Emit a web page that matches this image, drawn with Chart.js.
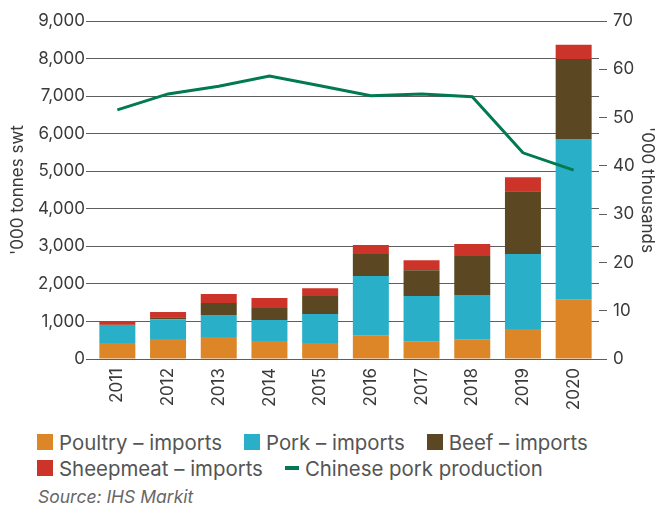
<!DOCTYPE html>
<html>
<head>
<meta charset="utf-8">
<script src="https://cdn.jsdelivr.net/npm/chart.js@4/dist/chart.umd.min.js"></script>
<style>
  html, body { margin: 0; padding: 0; background: #fff; }
  #wrap { position: relative; width: 656px; height: 505px; font-family: Inter, Lato, sans-serif; }
  #c { position: absolute; left: 0; top: 0; }
  #legend { position: absolute; left: 37px; top: 429px; color: #555; font-size: 20.4px; }
  .row { display: flex; align-items: center; height: 26px; white-space: nowrap; }
  .item { display: flex; align-items: center; margin-right: 22px; }
  .sw { width: 16px; height: 16px; margin-right: 6px; }
  .ln { width: 14px; height: 4px; margin-right: 6px; }
  #src { position: absolute; left: 38px; top: 486px; line-height: 22px; color: #666; font-size: 17.5px; font-style: italic; }
</style>
</head>
<body>
<div id="wrap">
  <canvas id="c" width="656" height="425"></canvas>
  <div id="legend"></div>
  <div id="src">Source: IHS Markit</div>
</div>
<script>
const years = ['2011','2012','2013','2014','2015','2016','2017','2018','2019','2020'];
const poultryImports   = [425, 530, 585, 480, 425, 620, 460, 515, 800, 1575];
const porkImports      = [480, 530, 585, 560, 770, 1590, 1215, 1190, 1995, 4285];
const beefImports      = [10, 55, 320, 320, 480, 585, 690, 1035, 1675, 2130];
const sheepmeatImports = [90, 135, 240, 265, 210, 240, 265, 320, 370, 375];
const chinesePorkProduction = [51.6, 54.9, 56.5, 58.6, 56.6, 54.5, 54.9, 54.3, 42.7, 39.1];
const leftTicks = [0, 1000, 2000, 3000, 4000, 5000, 6000, 7000, 8000, 9000];
const rightTicks = [0, 10, 20, 30, 40, 50, 60, 70];

const COLORS = {
  poultry: '#DD8628',
  pork: '#2AAFC8',
  beef: '#5B4823',
  sheep: '#CD3429',
  line: '#007A4E'
};
const FONT = 'Inter, Lato, sans-serif';
const TXT = '#3a3a3a';

const legendItems = [
  [{label:'Poultry – imports', color: COLORS.poultry}, {label:'Pork – imports', color: COLORS.pork}, {label:'Beef – imports', color: COLORS.beef}],
  [{label:'Sheepmeat – imports', color: COLORS.sheep}, {label:'Chinese pork production', color: COLORS.line, line:true}]
];
const lg = document.getElementById('legend');
legendItems.forEach(r => {
  const row = document.createElement('div'); row.className = 'row';
  r.forEach(it => {
    const d = document.createElement('div'); d.className = 'item';
    const s = document.createElement('span'); s.className = it.line ? 'ln' : 'sw'; s.style.background = it.color;
    const t = document.createElement('span'); t.textContent = it.label;
    d.appendChild(s); d.appendChild(t); row.appendChild(d);
  });
  lg.appendChild(row);
});

const barCommon = { type: 'bar', yAxisID: 'y', stack: 'imports', barPercentage: 0.71, categoryPercentage: 1.0, borderWidth: 0, order: 2 };

new Chart(document.getElementById('c'), {
  data: {
    labels: years,
    datasets: [
      Object.assign({ label: 'Poultry – imports', data: poultryImports, backgroundColor: COLORS.poultry }, barCommon),
      Object.assign({ label: 'Pork – imports', data: porkImports, backgroundColor: COLORS.pork }, barCommon),
      Object.assign({ label: 'Beef – imports', data: beefImports, backgroundColor: COLORS.beef }, barCommon),
      Object.assign({ label: 'Sheepmeat – imports', data: sheepmeatImports, backgroundColor: COLORS.sheep }, barCommon),
      { type: 'line', label: 'Chinese pork production', data: chinesePorkProduction, yAxisID: 'y1',
        borderColor: COLORS.line, borderWidth: 3, pointRadius: 0, tension: 0, fill: false, order: 1 }
    ]
  },
  options: {
    responsive: false,
    animation: false,
    layout: { padding: { top: 21, left: 0, right: 0, bottom: 0 } },
    plugins: { legend: { display: false }, tooltip: { enabled: false } },
    scales: {
      x: {
        stacked: true,
        grid: { display: false, drawTicks: false },
        border: { display: false },
        ticks: { color: TXT, font: { family: FONT, size: 17 }, minRotation: 90, maxRotation: 90, padding: 9 },
        afterFit: s => { s.height = 425 - 359; }
      },
      y: {
        position: 'left',
        stacked: true,
        min: 0, max: 9000,
        afterBuildTicks: s => { s.ticks = leftTicks.map(v => ({ value: v })); },
        grid: { color: '#5e5e5e', lineWidth: 1, tickLength: 6, drawTicks: true },
        border: { display: false },
        ticks: { color: TXT, font: { family: FONT, size: 17 }, padding: 1,
          callback: v => v.toLocaleString('en-US') },
        title: { display: true, text: "'000 tonnes swt", color: TXT, font: { family: FONT, size: 17, lineHeight: 1 }, padding: { top: 9, bottom: 0 } },
        afterFit: s => { s.width = 92; }
      },
      y1: {
        position: 'right',
        min: 0, max: 70,
        afterBuildTicks: s => { s.ticks = rightTicks.map(v => ({ value: v })); },
        grid: { drawOnChartArea: false, color: '#5e5e5e', tickLength: 8 },
        border: { display: false },
        ticks: { color: TXT, font: { family: FONT, size: 17 }, padding: 6 },
        title: { display: true, text: "'000 thousands", color: TXT, font: { family: FONT, size: 17, lineHeight: 1 }, padding: { top: 0, bottom: 0 } },
        afterFit: s => { s.width = 57; }
      }
    }
  }
});
</script>
</body>
</html>
